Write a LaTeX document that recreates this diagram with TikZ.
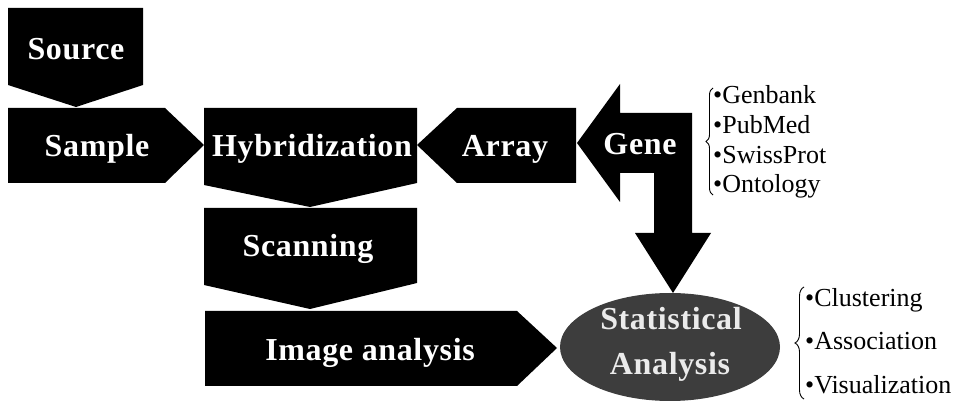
\documentclass[tikz,border=0pt]{standalone}
\usepackage{fontspec}
\setmainfont{Liberation Serif}
\newfontfamily\boxfont[LetterSpace=2]{Liberation Serif}
\usetikzlibrary{decorations.pathreplacing}
\begin{document}
\begin{tikzpicture}[x=1pt,y=-1pt,
  block/.style={fill=black},
  lbl/.style={text=white,font=\boxfont\fontsize{32}{36}\selectfont\bfseries,inner sep=0pt,anchor=base},
  item/.style={font=\fontsize{26}{30}\selectfont,inner sep=0pt,anchor=base west},
  brc/.style={decorate,decoration={brace,amplitude=#1},line width=0.9pt}]
\useasboundingbox (0,0) rectangle (959,403);

% process blocks
\fill[block] (8,8) -- (143,8) -- (143,85) -- (76,107) -- (8,85) -- cycle;
\fill[block] (8,108) -- (165,108) -- (204,145) -- (165,183) -- (8,183) -- cycle;
\fill[block] (204,108) -- (417,108) -- (417,183) -- (310,207) -- (204,185) -- cycle;
\fill[block] (417,145) -- (457,108) -- (576,108) -- (576,183) -- (457,183) -- cycle;
\fill[block] (204,208) -- (417,208) -- (417,283) -- (310,309) -- (204,285) -- cycle;
\fill[block] (205,311) -- (517,311) -- (557,348) -- (517,386) -- (205,386) -- cycle;

% gene: bent double arrow
\fill[block] (577,143) -- (620,84) -- (620,113) -- (692,113) -- (692,233)
  -- (711,233) -- (673,293) -- (635,233) -- (654,233) -- (654,173)
  -- (620,173) -- (620,202) -- cycle;

% statistical analysis
\fill[black!76] (670,347) ellipse [x radius=110, y radius=54];

% labels
\node[lbl] (source) at (76,60) {Source};
\node[lbl] (sample) at (97,157) {Sample};
\node[lbl] (hyb) at (312,157) {Hybridization};
\node[lbl] (array) at (505,157) {Array};
\node[lbl] (gene) at (640,155) {Gene};
\node[lbl] (scan) at (308,257) {Scanning};
\node[lbl] (image) at (370,361) {Image analysis};
\node[lbl,text=black!8] (stat) at (671,330) {Statistical};
\node[lbl,text=black!8] (anal) at (670,375) {Analysis};

% databases
\draw[brc=7pt] (713,195) -- (713,88);
\node[item] (gb) at (713,104) {•Genbank};
\node[item] (pm) at (713,134) {•PubMed};
\node[item] (sp) at (713,164) {•SwissProt};
\node[item] (on) at (713,193) {•Ontology};

% methods
\draw[brc=9pt] (804,399) -- (804,287);
\node[item] (cl) at (805,307) {•Clustering};
\node[item] (as) at (805,350) {•Association};
\node[item] (vi) at (805,393) {•Visualization};
\end{tikzpicture}
\end{document}
